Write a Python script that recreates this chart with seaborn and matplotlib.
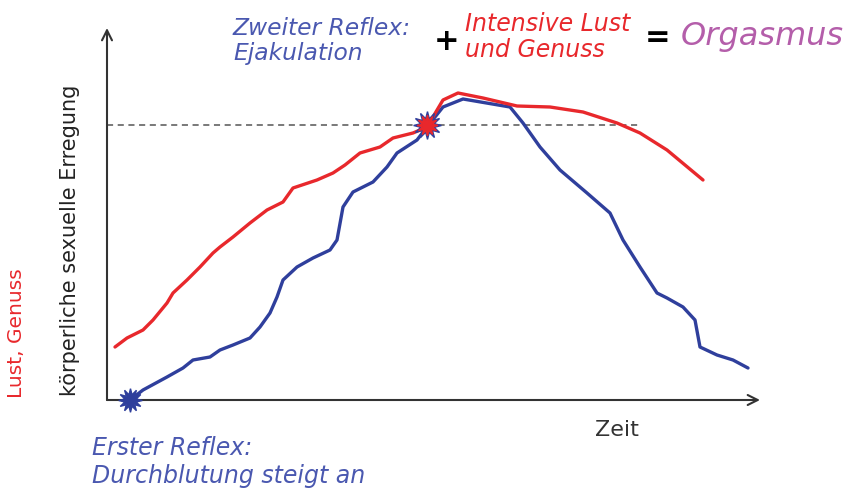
import seaborn as sns
import pandas as pd
from matplotlib import pyplot as plt

# Red curve: Lust, Genuss
rot_zeit = [8, 20, 36, 46, 60, 66, 80, 93, 106, 113, 126, 143, 160, 176, 186, 210, 226,
            238, 253, 273, 286, 306, 320, 336, 351, 376, 410, 443, 476, 510, 533, 560, 596]
rot_wert = [53, 62, 70, 80, 97, 107, 120, 133, 147, 153, 163, 177, 190, 198, 212, 220, 227,
            235, 247, 253, 262, 267, 273, 300, 307, 302, 294, 293, 288, 277, 267, 250, 220]

# Blue curve: körperliche sexuelle Erregung
blau_zeit = [23, 36, 60, 76, 86, 103, 113, 126, 143, 153, 163, 170, 176, 190, 206, 223, 230,
             236, 246, 266, 280, 290, 310, 320, 336, 356, 403, 416, 433, 453, 480, 503, 516,
             533, 550, 560, 576, 588, 593, 610, 626, 641]
blau_wert = [0, 10, 23, 32, 40, 43, 50, 55, 62, 73, 87, 103, 120, 133, 142, 150, 160,
             193, 208, 218, 233, 247, 260, 273, 293, 301, 293, 277, 253, 230, 207, 187, 160,
             133, 107, 102, 93, 80, 53, 45, 40, 32]

schwelle = 275
reflex1 = (23, 0)
reflex2 = (320, 275)

ROT = '#e8282c'
BLAU = '#2f3f9c'
TEXTBLAU = '#4a58b0'
LILA = '#b45eaa'

sns.set_style('white')
plt.rcParams['font.family'] = ['DejaVu Sans']

fig = plt.figure(figsize=(8.47, 4.92), dpi=100)
W, H = 847, 492
ax = fig.add_axes([107 / W, (H - 400) / H, 653 / W, 372 / H])

rot = pd.DataFrame({'zeit': rot_zeit, 'wert': rot_wert})
blau = pd.DataFrame({'zeit': blau_zeit, 'wert': blau_wert})
sns.lineplot(data=blau, x='zeit', y='wert', sort=False, estimator=None,
             color=BLAU, lw=2.4, ax=ax)
sns.lineplot(data=rot, x='zeit', y='wert', sort=False, estimator=None,
             color=ROT, lw=2.4, ax=ax)

ax.plot([0, 533], [schwelle, schwelle], ls=(0, (4, 3)), color='#555555', lw=1.1, zorder=1)

# star markers
ax.plot(*reflex1, marker=(12, 1, 0), ms=17, color=BLAU, clip_on=False, zorder=5)
ax.plot(*reflex2, marker=(12, 1, 0), ms=20, color=BLAU, zorder=5)
ax.plot(*reflex2, marker=(12, 1, 0), ms=15, color=ROT, zorder=6)

ax.set_xlim(0, 653)
ax.set_ylim(0, 372)
ax.set_xticks([])
ax.set_yticks([])
ax.set_xlabel('')
ax.set_ylabel('')
for s in ax.spines.values():
    s.set_visible(False)

# axis arrows
arrow = dict(arrowstyle='->', lw=1.5, color='#333333', mutation_scale=18,
             shrinkA=0, shrinkB=0)
ax.annotate('', xy=(0, 1), xytext=(0, 0), xycoords='axes fraction', arrowprops=arrow)
ax.annotate('', xy=(1, 0), xytext=(0, 0), xycoords='axes fraction', arrowprops=arrow)


def px(x, y):
    return x / W, 1 - y / H


fig.text(*px(617, 430), 'Zeit', fontsize=16, color='#333333', ha='center', va='center')
fig.text(*px(70, 240), 'körperliche sexuelle Erregung', fontsize=15, color='#222222',
         rotation=90, ha='center', va='center')
fig.text(*px(17, 333), 'Lust, Genuss', fontsize=14.5, color=ROT,
         rotation=90, ha='center', va='center')

fig.text(*px(233, 41), 'Zweiter Reflex:\nEjakulation', fontsize=16.8, color=TEXTBLAU,
         style='italic', ha='left', va='center', linespacing=1.15)
fig.text(*px(447, 42), '+', fontsize=22, fontweight='bold', color='black',
         ha='center', va='center')
fig.text(*px(465, 37), 'Intensive Lust\nund Genuss', fontsize=17, color=ROT,
         style='italic', ha='left', va='center', linespacing=1.1)
fig.text(*px(658, 38), '=', fontsize=22, fontweight='bold', color='black',
         ha='center', va='center')
fig.text(*px(681, 37), 'Orgasmus', fontsize=23, color=LILA,
         style='italic', ha='left', va='center')
fig.text(*px(92, 462), 'Erster Reflex:\nDurchblutung steigt an', fontsize=17, color=TEXTBLAU,
         style='italic', ha='left', va='center', linespacing=1.2)

fig.savefig('out.png', dpi=100)
